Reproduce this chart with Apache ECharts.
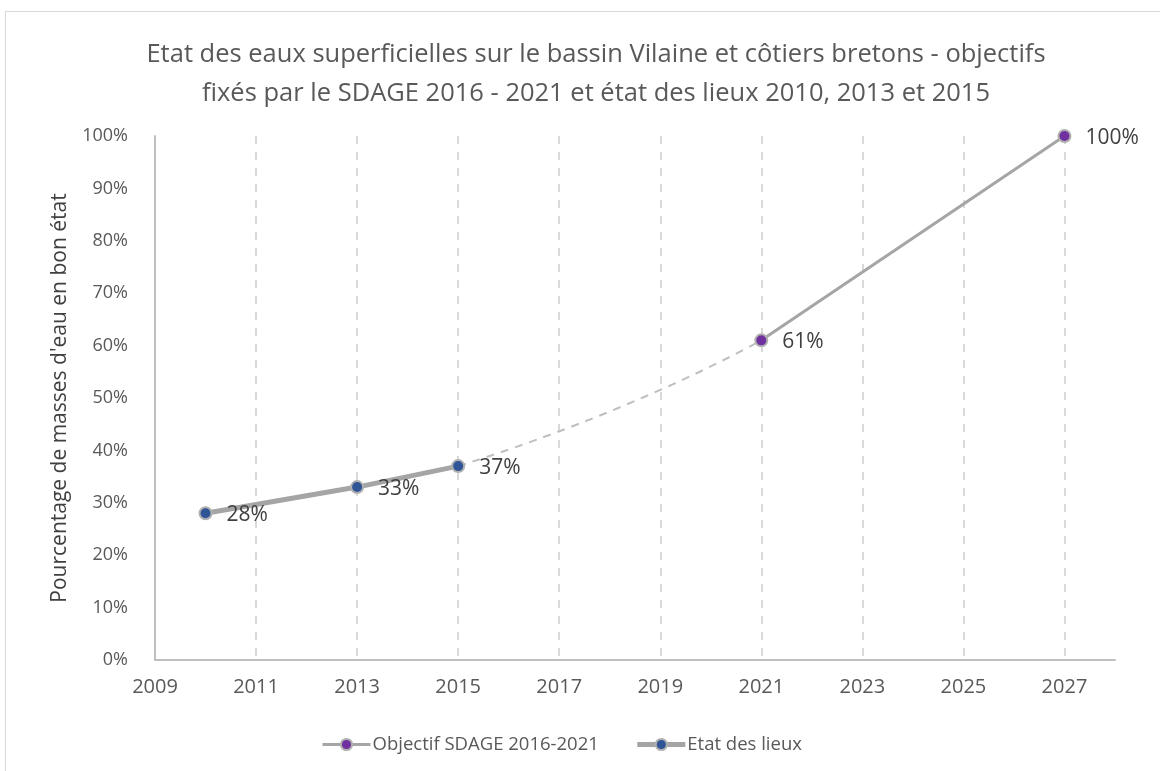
<!DOCTYPE html>
<html>
<head>
<meta charset="utf-8">
<script src="https://cdn.jsdelivr.net/npm/echarts@6/dist/echarts.min.js"></script>
<style>
  html, body { margin: 0; padding: 0; background: #fff; }
  #frame { position: absolute; left: 5px; top: 11px; width: 1170px; height: 780px; border: 1px solid #d9d9d9; box-sizing: border-box; }
  #chart { position: absolute; left: 0; top: 0; width: 1160px; height: 771px; }
</style>
</head>
<body>
<div id="frame"></div>
<div id="chart"></div>
<script>
// données
var etatYears = [2010, 2013, 2015];
var etatValues = [28, 33, 37];
var objectifYears = [2021, 2027];
var objectifValues = [61, 100];
// trajectoire pointillée entre le dernier état des lieux et les objectifs
var trajetYears = [2015, 2021, 2027];
var trajetValues = [37, 61, 100];
var xTicks = { min: 2009, max: 2028, step: 2 };
var yTicks = { min: 0, max: 100, step: 10 };

function pairs(xs, ys) {
    return xs.map(function (x, i) { return [x, ys[i]]; });
}

var myChart = echarts.init(document.getElementById('chart'));
var txt = '#595959';
var font = '"Open Sans", sans-serif';

var dataLabel = {
    show: true,
    position: 'right',
    distance: 14,
    color: '#404040',
    fontSize: 21,
    fontFamily: font,
    formatter: function (p) { return p.value[1] + '%'; }
};

var option = {
    title: {
        text: 'Etat des eaux superficielles sur le bassin Vilaine et côtiers bretons - objectifs\nfixés par le SDAGE 2016 - 2021 et état des lieux 2010, 2013 et 2015',
        left: 591,
        textAlign: 'center',
        top: 30,
        textStyle: { color: txt, fontSize: 25.5, fontWeight: 'normal', fontFamily: font, lineHeight: 39 }
    },
    legend: {
        left: 316,
        bottom: 12,
        itemWidth: 48,
        itemHeight: 14,
        itemGap: 36,
        data: [
            { name: 'Objectif SDAGE 2016-2021', lineStyle: { width: 3 } },
            { name: 'Etat des lieux', lineStyle: { width: 5 } }
        ],
        textStyle: { color: txt, fontSize: 18.5, fontFamily: font, padding: [0, 0, 0, -3] }
    },
    grid: { left: 155, right: 45, top: 136, bottom: 111 },
    xAxis: {
        type: 'value',
        min: xTicks.min,
        max: xTicks.max,
        interval: xTicks.step,
        axisLine: { lineStyle: { color: '#bfbfbf', width: 2 } },
        axisTick: { show: false },
        axisLabel: {
            color: txt, fontSize: 20, fontFamily: font, margin: 17, showMaxLabel: false,
            formatter: function (v) { return String(v); }
        },
        splitLine: {
            show: true,
            showMinLine: false,
            showMaxLine: false,
            lineStyle: { color: '#d9d9d9', width: 2, type: [8, 8] }
        }
    },
    yAxis: {
        type: 'value',
        min: yTicks.min,
        max: yTicks.max,
        interval: yTicks.step,
        name: "Pourcentage de masses d'eau en bon état",
        nameLocation: 'middle',
        nameGap: 84,
        nameTextStyle: { color: '#404040', fontSize: 21, fontFamily: font },
        axisLine: { show: true, lineStyle: { color: '#bfbfbf', width: 2 } },
        axisTick: { show: false },
        axisLabel: { color: txt, fontSize: 18, fontFamily: font, margin: 27, formatter: '{value}%' },
        splitLine: { show: false }
    },
    series: [
        {
            name: 'Objectif SDAGE 2016-2021',
            type: 'line',
            z: 3,
            data: pairs(objectifYears, objectifValues),
            symbol: 'circle',
            symbolSize: 12,
            itemStyle: { color: '#7030a0', borderColor: '#b0b0b0', borderWidth: 2 },
            lineStyle: { color: '#a5a5a5', width: 3 },
            label: dataLabel,
            labelLayout: { dy: 2 }
        },
        {
            name: 'Etat des lieux',
            type: 'line',
            z: 3,
            data: pairs(etatYears, etatValues),
            symbol: 'circle',
            symbolSize: 12,
            itemStyle: { color: '#2f5597', borderColor: '#b0b0b0', borderWidth: 2 },
            lineStyle: { color: '#a5a5a5', width: 5 },
            label: dataLabel,
            labelLayout: { dy: 2 }
        },
        {
            name: 'trajectoire',
            type: 'line',
            z: 2,
            smooth: 0.5,
            showSymbol: false,
            silent: true,
            data: pairs(trajetYears, trajetValues),
            lineStyle: { color: '#bfbfbf', width: 2, type: [8, 7] }
        }
    ]
};

myChart.setOption(option);

// la partie pointillée s'arrête à l'objectif 2021 : dégradé global coupé à cette abscisse
var cut = myChart.convertToPixel({ xAxisIndex: 0 }, objectifYears[0]);
myChart.setOption({
    series: [{}, {}, {
        lineStyle: {
            color: new echarts.graphic.LinearGradient(0, 0, cut * 2, 0, [
                { offset: 0, color: '#bfbfbf' },
                { offset: 0.5, color: '#bfbfbf' },
                { offset: 0.5, color: 'rgba(255,255,255,0)' },
                { offset: 1, color: 'rgba(255,255,255,0)' }
            ], true)
        }
    }]
});
</script>
</body>
</html>
